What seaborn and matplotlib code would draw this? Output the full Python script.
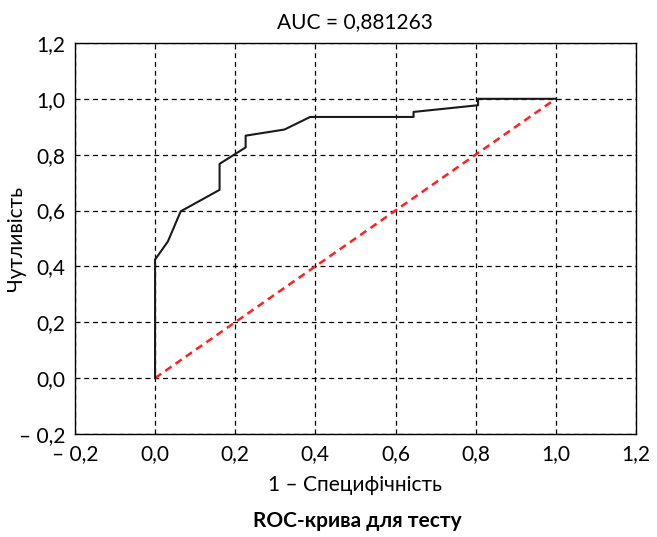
import matplotlib
matplotlib.use("Agg")
import matplotlib.pyplot as plt
import numpy as np
import pandas as pd
import seaborn as sns

# ROC curve points
fpr = [0.0, 0.0, 0.032, 0.064, 0.161, 0.161, 0.226, 0.226, 0.323, 0.387, 0.645, 0.645, 0.806, 0.806, 1.0]
tpr = [0.0, 0.424, 0.489, 0.597, 0.674, 0.767, 0.826, 0.868, 0.890, 0.935, 0.935, 0.953, 0.977, 1.0, 1.0]
diag_x = [0.0, 1.0]
diag_y = [0.0, 1.0]

tick_vals = [-0.2, 0.0, 0.2, 0.4, 0.6, 0.8, 1.0, 1.2]
tick_labels = ["– 0,2", "0,0", "0,2", "0,4", "0,6", "0,8", "1,0", "1,2"]

auc_text = "AUC = 0,881263"
caption = "ROC-крива для тесту"

sns.set_style("white")
plt.rcParams["font.family"] = ["Lato", "DejaVu Sans"]
plt.rcParams["text.color"] = "black"
plt.rcParams["axes.labelcolor"] = "black"
plt.rcParams["xtick.color"] = "black"
plt.rcParams["ytick.color"] = "black"

roc = pd.DataFrame({"fpr": fpr, "tpr": tpr})
diag = pd.DataFrame({"x": diag_x, "y": diag_y})

fig = plt.figure(figsize=(6.57, 5.37), dpi=100)
ax = fig.add_axes([0.114, 0.192, 0.854, 0.728])

# grid first so it stays under the lines
ax.set_axisbelow(True)
ax.grid(True, color="black", linestyle=(0, (4, 3)), linewidth=0.9)

sns.lineplot(data=diag, x="x", y="y", sort=False, estimator=None, ax=ax,
             color="#ff2020", linestyle=(0, (3, 2)), linewidth=1.8)
sns.lineplot(data=roc, x="fpr", y="tpr", sort=False, estimator=None, ax=ax,
             color="#1a1a1a", linewidth=1.5)

ax.set_xlim(-0.2, 1.2)
ax.set_ylim(-0.2, 1.2)
ax.set_xticks(tick_vals)
ax.set_yticks(tick_vals)
ax.set_xticklabels(tick_labels, fontsize=15)
ax.set_yticklabels(tick_labels, fontsize=15)
ax.tick_params(direction="in", length=5, width=0.9, color="black", pad=7)

for s in ax.spines.values():
    s.set_color("black")
    s.set_linewidth(1.0)

ax.set_title(auc_text, fontsize=15, pad=11)
ax.set_xlabel("1 – Специфічність", fontsize=15, labelpad=8)
ax.set_ylabel("Чутливість", fontsize=15)
ax.yaxis.set_label_coords(-0.088, 0.5)

fig.text(0.544, 0.012, caption, ha="center", va="bottom", fontsize=15, fontweight="bold")

fig.savefig("out.png", dpi=100)
